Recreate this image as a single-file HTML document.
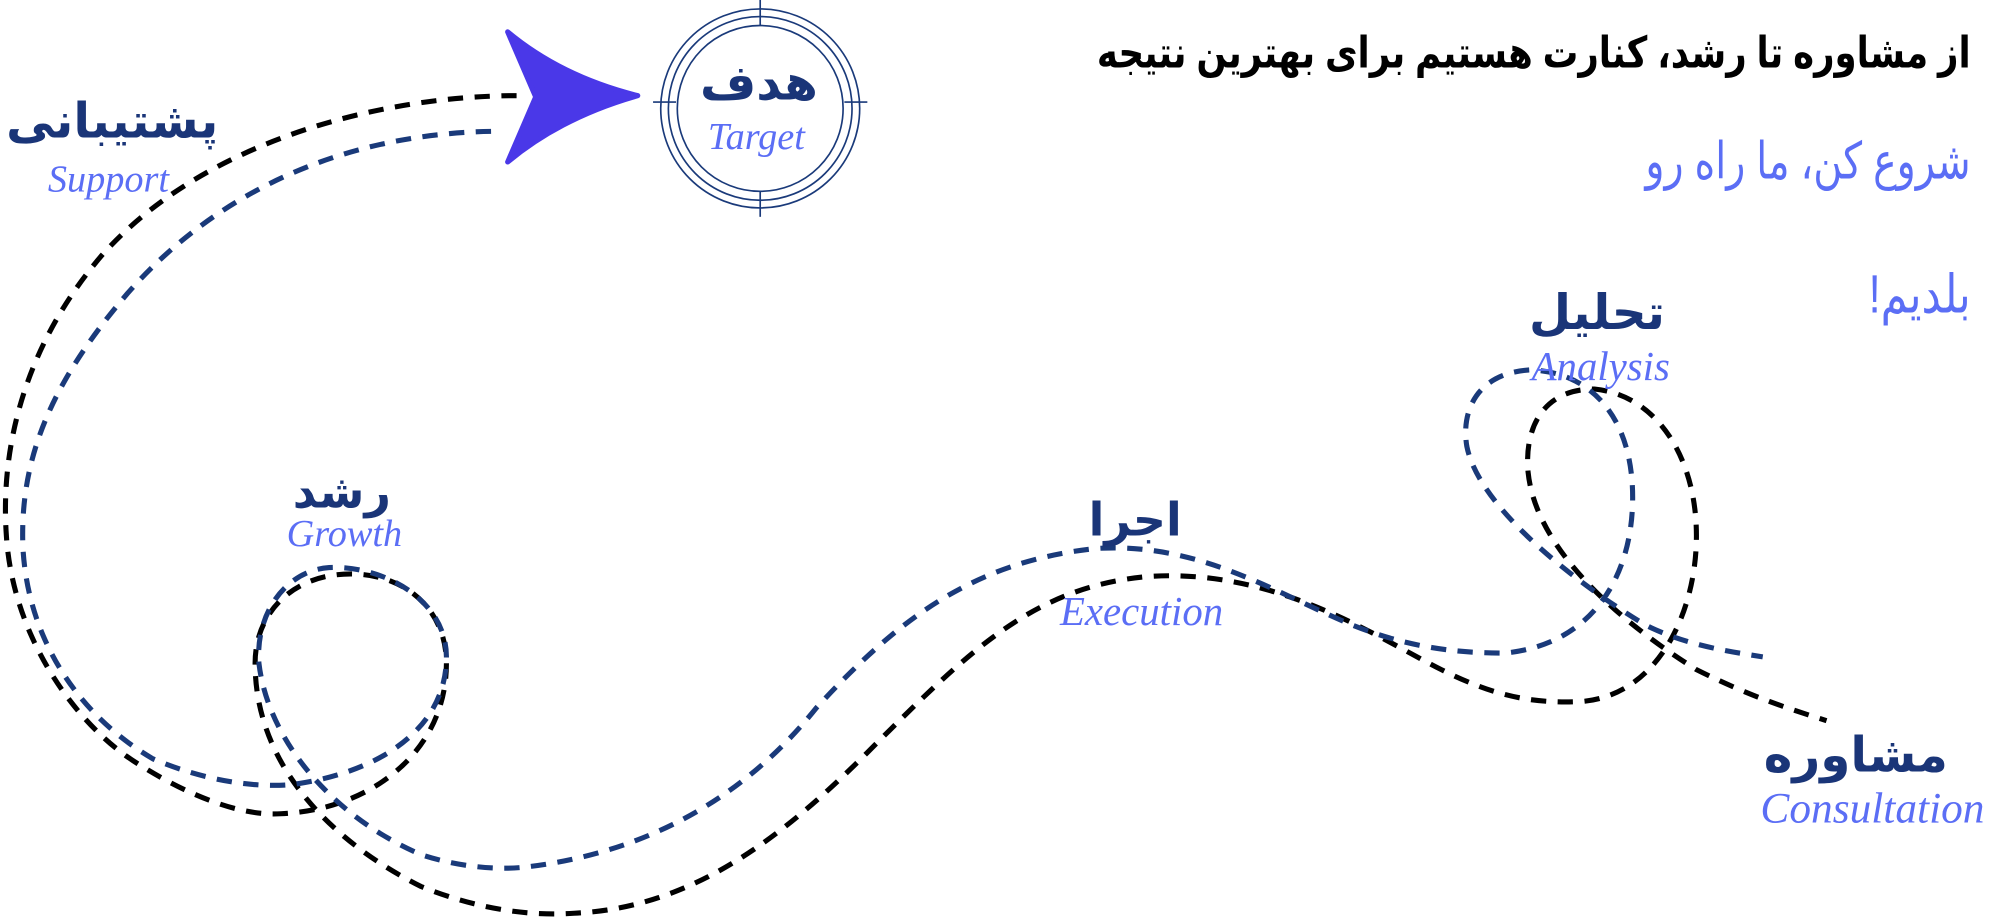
<!DOCTYPE html>
<html><head><meta charset="utf-8"><style>
html,body{margin:0;padding:0;background:#fff;width:2000px;height:920px;overflow:hidden}
svg{display:block}
.fa{font-family:"Liberation Sans","Noto Sans CJK SC","DejaVu Sans",sans-serif;font-weight:bold}
.en{font-family:"Liberation Serif",serif;font-style:italic;fill:#5b6ef5}
</style></head><body>
<svg width="2000" height="920" viewBox="0 0 1568 721.3" preserveAspectRatio="none" xmlns="http://www.w3.org/2000/svg">
<g fill="none" stroke-width="4" stroke-dasharray="12 9">
<path stroke="#000" d="M 405 75 C 300 75 160 110 80 200 C 20 270 0 350 5 420 C 10 500 60 570 110 600 C 150 625 190 640 220 638 C 290 635 350 590 350 520 C 350 480 320 450 275 450 C 230 450 200 480 200 520 C 200 600 260 660 330 695 C 380 715 420 718 450 716 C 540 712 610 660 680 590 C 760 510 810 460 900 452 C 1000 445 1080 500 1130 525 C 1170 545 1200 552 1240 550 C 1300 545 1330 480 1330 420 C 1330 360 1300 310 1250 305 C 1210 305 1195 335 1198 370 C 1205 440 1290 500 1330 525 C 1370 545 1400 555 1432 565"/>
<path stroke="#1a3a7a" d="M 385 103 C 270 105 170 150 100 230 C 40 300 15 360 18 430 C 22 500 60 560 120 595 C 160 612 200 618 230 615 C 300 605 350 570 350 515 C 350 470 300 443 258 445 C 225 447 200 480 203 520 C 210 580 260 640 330 670 C 360 680 390 682 410 680 C 500 670 580 630 640 555 C 700 490 760 440 860 430 C 940 425 1000 465 1060 490 C 1110 510 1150 512 1180 512 C 1250 505 1280 450 1280 390 C 1280 330 1250 292 1200 290 C 1160 292 1145 320 1150 350 C 1160 400 1240 460 1290 490 C 1320 505 1350 510 1382 515"/>
</g>
<path fill="#4a38e8" d="M 398 25 Q 440 60 500 75 Q 440 92 398 127 L 420 76 Z" stroke="#4a38e8" stroke-width="4" stroke-linejoin="round"/>
<g fill="none" stroke="#1a3a7a" stroke-width="1.3">
<circle cx="596" cy="85" r="78"/>
<circle cx="596" cy="85" r="72"/>
<circle cx="596" cy="85" r="65"/>
<line x1="512" y1="80" x2="530" y2="80"/><line x1="662" y1="80" x2="680" y2="80"/>
<line x1="596" y1="0" x2="596" y2="20"/><line x1="596" y1="150" x2="596" y2="170"/>
</g>
<text class="fa" x="595" y="78" font-size="38" fill="#1a3578" text-anchor="middle">هدف</text>
<text class="en" x="593" y="117" font-size="30" text-anchor="middle">Target</text>
<text class="fa" x="88" y="108" font-size="38" fill="#1a3578" text-anchor="middle">پشتیبانی</text>
<text class="en" x="85" y="150" font-size="30" text-anchor="middle">Support</text>
<text class="fa" x="268" y="398" font-size="36" fill="#1a3578" text-anchor="middle">رشد</text>
<text class="en" x="270" y="428" font-size="30" text-anchor="middle">Growth</text>
<text class="fa" x="890" y="420" font-size="36" fill="#1a3578" text-anchor="middle">اجرا</text>
<text class="en" x="895" y="490" font-size="32" text-anchor="middle">Execution</text>
<text class="fa" x="1252" y="258" font-size="38" fill="#1a3578" text-anchor="middle">تحلیل</text>
<text class="en" x="1255" y="298" font-size="32" text-anchor="middle">Analysis</text>
<text class="fa" x="1455" y="605" font-size="38" fill="#1a3578" text-anchor="middle">مشاوره</text>
<text class="en" x="1468" y="645" font-size="34" text-anchor="middle">Consultation</text>
<text x="1545" y="53" font-size="34" fill="#000" font-weight="bold" text-anchor="start" direction="rtl" textLength="685" lengthAdjust="spacingAndGlyphs" style="font-family:'Liberation Sans','Noto Sans CJK SC','DejaVu Sans',sans-serif">از مشاوره تا رشد، کنارت هستیم برای بهترین نتیجه</text>
<text x="1545" y="140" font-size="40" fill="#5b6ef5" text-anchor="start" direction="rtl" textLength="255" lengthAdjust="spacingAndGlyphs" style="font-family:'Liberation Sans','DejaVu Sans',sans-serif">شروع کن، ما راه رو</text>
<text x="1545" y="245" font-size="42" fill="#5b6ef5" text-anchor="start" direction="rtl" textLength="80" lengthAdjust="spacingAndGlyphs" style="font-family:'Liberation Sans','DejaVu Sans',sans-serif">بلدیم!</text>
</svg>
</body></html>
